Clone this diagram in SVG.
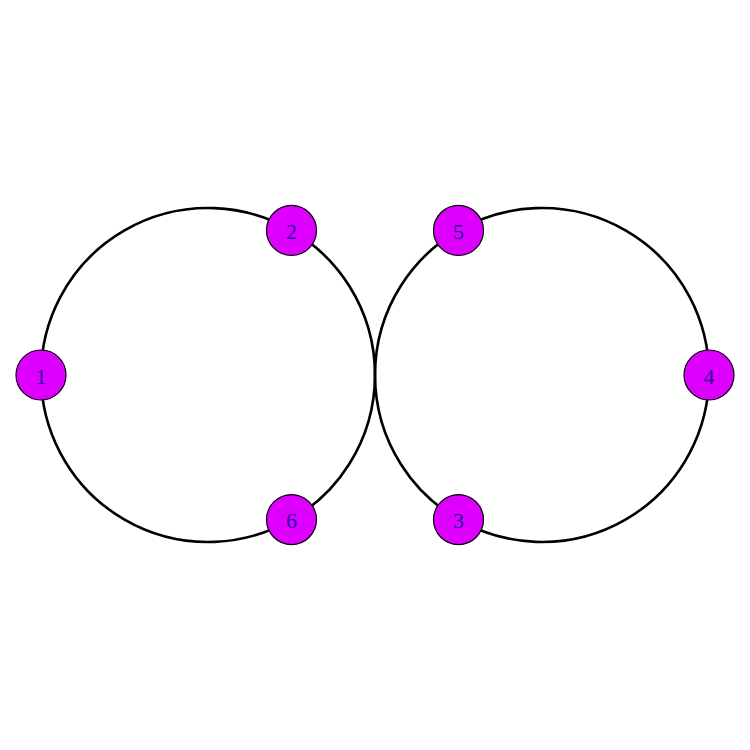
<svg xmlns="http://www.w3.org/2000/svg" width="750" height="750" viewBox="0 0 750 750">
<style>
.edge{fill:none;stroke:#000;stroke-width:2.6}
.node circle{fill:#dd00ff;stroke:#000;stroke-width:1.2}
.node text{font-family:"Liberation Serif",serif;font-size:22px;fill:#2a0a9a;text-anchor:middle;dominant-baseline:central}
</style>
<rect width="750" height="750" fill="#fff"/>
<g id="connectors">
<path class="edge" d="M41,375 A167,167 0 0 1 291.5,230.4"/>
<path class="edge" d="M291.5,230.4 A167,167 0 0 1 291.5,519.6"/>
<path class="edge" d="M291.5,519.6 A167,167 0 0 1 41,375"/>
<path class="edge" d="M458.5,230.4 A167,167 0 0 1 709,375"/>
<path class="edge" d="M709,375 A167,167 0 0 1 458.5,519.6"/>
<path class="edge" d="M458.5,519.6 A167,167 0 0 1 458.5,230.4"/>
</g>
<g id="node1" class="node"><circle cx="41" cy="375" r="25"/><text x="41" y="376">1</text></g>
<g id="node2" class="node"><circle cx="291.5" cy="230.4" r="25"/><text x="291.5" y="231.4">2</text></g>
<g id="node6" class="node"><circle cx="291.5" cy="519.6" r="25"/><text x="291.5" y="520.6">6</text></g>
<g id="node5" class="node"><circle cx="458.5" cy="230.4" r="25"/><text x="458.5" y="231.4">5</text></g>
<g id="node4" class="node"><circle cx="709" cy="375" r="25"/><text x="709" y="376">4</text></g>
<g id="node3" class="node"><circle cx="458.5" cy="519.6" r="25"/><text x="458.5" y="520.6">3</text></g>
</svg>
